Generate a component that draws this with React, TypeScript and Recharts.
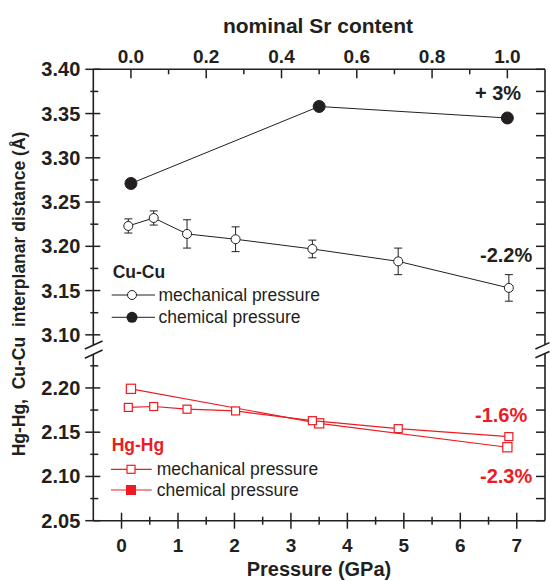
import React from 'react';
import { ComposedChart, Scatter, XAxis, YAxis, ErrorBar, ReferenceLine } from 'recharts';

// ---------------- data ----------------
const pressureGPa = [0.12, 0.57, 1.16, 2.02, 3.38, 4.9, 6.86];
const cuCuMechanical = [3.223, 3.232, 3.214, 3.208, 3.197, 3.183, 3.153];
const cuCuMechanicalErr = [0.008, 0.008, 0.016, 0.014, 0.01, 0.015, 0.015];
const hgHgMechanical = [2.178, 2.179, 2.176, 2.174, 2.163, 2.154, 2.145];
const hgHgMechanicalErr = [0.004, 0.004, 0.004, 0.004, 0.004, 0.004, 0.004];

const srContent = [0.0, 0.5, 1.0];
const cuCuChemical = [3.271, 3.358, 3.345];
const hgHgChemical = [2.199, 2.16, 2.133];

const pressureTicks = [0, 0.5, 1, 1.5, 2, 2.5, 3, 3.5, 4, 4.5, 5, 5.5, 6, 6.5, 7];
const srTicks = [0, 0.1, 0.2, 0.3, 0.4, 0.5, 0.6, 0.7, 0.8, 0.9, 1.0];
const lowerYTicks = [2.05, 2.075, 2.1, 2.125, 2.15, 2.175, 2.2, 2.225];
const upperYTicks = [3.1, 3.125, 3.15, 3.175, 3.2, 3.225, 3.25, 3.275, 3.3, 3.325, 3.35, 3.375, 3.4];

// ---------------- styling / helpers ----------------
const INK = '#231f20';
const RED = '#ed1c24';
const FONT = "'Liberation Sans', Arial, Helvetica, sans-serif";
const SHIFT = 0.84; // broken axis: 3.10 is drawn where 2.26 would be
const toDisplay = (v: number) => (v > 2.9 ? v - SHIFT : v);
const toActual = (d: number) => (d > 2.245 ? d + SHIFT : d);
const isMajorY = (v: number) => Math.round(v * 1000) % 50 === 0;

const cuMechData = pressureGPa.map((x, i) => ({ x, y: toDisplay(cuCuMechanical[i]), err: cuCuMechanicalErr[i] }));
const hgMechData = pressureGPa.map((x, i) => ({ x, y: toDisplay(hgHgMechanical[i]), err: hgHgMechanicalErr[i] }));
const cuChemData = srContent.map((x, i) => ({ x, y: toDisplay(cuCuChemical[i]) }));
const hgChemData = srContent.map((x, i) => ({ x, y: toDisplay(hgHgChemical[i]) }));
const yTicks = [...lowerYTicks, ...upperYTicks.map(toDisplay)];

// ---------------- ticks ----------------
const BottomTick = ({ x, y, payload }: any) => {
  const v = payload.value as number;
  const major = Math.abs(v - Math.round(v)) < 1e-6;
  return (
    <g>
      <line x1={x} x2={x} y1={y - (major ? 8 : 4)} y2={y + (major ? 8 : 4)} stroke={INK} strokeWidth={1.5} />
      {major && (
        <text x={x} y={y + 31} textAnchor="middle" fontFamily={FONT} fontWeight="bold" fontSize={19} fill={INK}>
          {String(v)}
        </text>
      )}
    </g>
  );
};

const TopTick = ({ x, y, payload }: any) => {
  const v = payload.value as number;
  const major = Math.round(v * 10) % 2 === 0;
  return (
    <g>
      <line x1={x} x2={x} y1={y} y2={y + (major ? 9 : 5)} stroke={INK} strokeWidth={1.5} />
      {major && (
        <text x={x} y={y - 6} textAnchor="middle" fontFamily={FONT} fontWeight="bold" fontSize={19} fill={INK}>
          {v.toFixed(1)}
        </text>
      )}
    </g>
  );
};

const LeftTick = ({ x, y, payload }: any) => {
  const actual = toActual(payload.value as number);
  const major = isMajorY(actual);
  return (
    <g>
      <line x1={x - (major ? 8 : 3)} x2={x + (major ? 7 : 5)} y1={y} y2={y} stroke={INK} strokeWidth={1.5} />
      {major && (
        <text x={x - 13} y={y + 7} textAnchor="end" fontFamily={FONT} fontWeight="bold" fontSize={20} fill={INK}>
          {actual.toFixed(2)}
        </text>
      )}
    </g>
  );
};

const RightTick = ({ x, y }: any) => (
  <line x1={x - 9} x2={x} y1={y} y2={y} stroke={INK} strokeWidth={1.5} />
);

// ---------------- markers ----------------
const OpenCircle = (p: any) => <circle cx={p.cx} cy={p.cy} r={4.5} fill="#fff" stroke={INK} strokeWidth={1} />;
const FilledCircle = (p: any) => <circle cx={p.cx} cy={p.cy} r={6} fill={INK} stroke={INK} strokeWidth={1} />;
const SmallSquare = (p: any) => (
  <rect x={p.cx - 4} y={p.cy - 4} width={8} height={8} fill="#fff" stroke={RED} strokeWidth={1.2} />
);
const BigSquare = (p: any) => (
  <rect x={p.cx - 4.6} y={p.cy - 4.6} width={9.2} height={9.2} fill="#fff" stroke={RED} strokeWidth={1.2} />
);

const axisSeg = (a: [number, number], b: [number, number], key: string) => (
  <ReferenceLine
    key={key}
    xAxisId="p"
    yAxisId="l"
    segment={[{ x: a[0], y: a[1] }, { x: b[0], y: b[1] }]}
    stroke={INK}
    strokeWidth={1.6}
    ifOverflow="visible"
  />
);

export default function App() {
  return (
    <div style={{ position: 'absolute', left: 0, top: 0, width: 550, height: 581, background: '#fff' }}>
      <ComposedChart width={550} height={581} margin={{ top: 0, right: 0, bottom: 0, left: 0 }}>
        <XAxis
          xAxisId="p"
          dataKey="x"
          type="number"
          orientation="bottom"
          domain={[-0.5, 7.5]}
          allowDataOverflow
          ticks={pressureTicks}
          interval={0}
          height={60.3}
          tickSize={0}
          tickMargin={0}
          tickLine={false}
          tick={<BottomTick />}
          axisLine={{ stroke: INK, strokeWidth: 1.6 }}
        />
        <XAxis
          xAxisId="sr"
          dataKey="x"
          type="number"
          orientation="top"
          domain={[-0.1, 1.1]}
          allowDataOverflow
          ticks={srTicks}
          interval={0}
          height={69.3}
          tickSize={0}
          tickMargin={0}
          tickLine={false}
          tick={<TopTick />}
          axisLine={{ stroke: INK, strokeWidth: 1.6 }}
        />
        <YAxis
          yAxisId="l"
          dataKey="y"
          type="number"
          domain={[2.05, 2.56]}
          allowDataOverflow
          ticks={yTicks}
          interval={0}
          width={93.3}
          tickSize={0}
          tickMargin={0}
          tickLine={false}
          tick={<LeftTick />}
          axisLine={false}
        />
        <YAxis
          yAxisId="r"
          orientation="right"
          type="number"
          domain={[2.05, 2.56]}
          allowDataOverflow
          ticks={yTicks}
          interval={0}
          width={5}
          tickSize={0}
          tickMargin={0}
          tickLine={false}
          tick={<RightTick />}
          axisLine={false}
        />

        {/* broken vertical axes */}
        {axisSeg([-0.5, 2.05], [-0.5, 2.2384], 'l1')}
        {axisSeg([-0.5, 2.2485], [-0.5, 2.56], 'l2')}
        {axisSeg([-0.65, 2.244], [-0.336, 2.253], 'ls1')}
        {axisSeg([-0.65, 2.2335], [-0.336, 2.2429], 'ls2')}
        {axisSeg([7.5, 2.05], [7.5, 2.2389], 'r1')}
        {axisSeg([7.5, 2.2489], [7.5, 2.56], 'r2')}
        {axisSeg([7.33, 2.244], [7.58, 2.2512], 'rs1')}
        {axisSeg([7.33, 2.234], [7.58, 2.2412], 'rs2')}

        <Scatter
          data={hgChemData}
          xAxisId="sr"
          yAxisId="l"
          line={{ stroke: RED, strokeWidth: 1.2 }}
          shape={BigSquare}
          isAnimationActive={false}
        />
        <Scatter
          data={hgMechData}
          xAxisId="p"
          yAxisId="l"
          line={{ stroke: RED, strokeWidth: 1.2 }}
          shape={SmallSquare}
          isAnimationActive={false}
        >
          <ErrorBar dataKey="err" direction="y" width={4} stroke={RED} strokeWidth={1} />
        </Scatter>
        <Scatter
          data={cuChemData}
          xAxisId="sr"
          yAxisId="l"
          line={{ stroke: INK, strokeWidth: 1 }}
          shape={FilledCircle}
          isAnimationActive={false}
        />
        <Scatter
          data={cuMechData}
          xAxisId="p"
          yAxisId="l"
          line={{ stroke: INK, strokeWidth: 1 }}
          shape={OpenCircle}
          isAnimationActive={false}
        >
          <ErrorBar dataKey="err" direction="y" width={4} stroke={INK} strokeWidth={1} />
        </Scatter>
      </ComposedChart>

      <svg
        width={550}
        height={581}
        style={{ position: 'absolute', left: 0, top: 0, pointerEvents: 'none' }}
        fontFamily={FONT}
      >
        {/* axis titles */}
        <text x={318} y={33} textAnchor="middle" fontWeight="bold" fontSize={21} fill={INK}>
          nominal Sr content
        </text>
        <text x={319} y={576} textAnchor="middle" fontWeight="bold" fontSize={20} fill={INK}>
          Pressure (GPa)
        </text>
        <text
          x={25}
          y={294}
          transform="rotate(-90 25 294)"
          textAnchor="middle"
          fontWeight="bold"
          fontSize={17.5}
          fill={INK}
          style={{ whiteSpace: 'pre' }}
        >
          {'Hg-Hg,  Cu-Cu  interplanar distance (Å)'}
        </text>

        {/* annotations */}
        <text x={475} y={100} fontWeight="bold" fontSize={20} fill={INK}>+ 3%</text>
        <text x={480} y={261.7} fontWeight="bold" fontSize={20} fill={INK}>-2.2%</text>
        <text x={475} y={421.7} fontWeight="bold" fontSize={20} fill={RED}>-1.6%</text>
        <text x={480} y={483.3} fontWeight="bold" fontSize={20} fill={RED}>-2.3%</text>

        {/* Cu-Cu legend */}
        <text x={112.7} y={277.7} fontWeight="bold" fontSize={17.5} fill={INK}>Cu-Cu</text>
        <line x1={111.7} x2={155} y1={295} y2={295} stroke={INK} strokeWidth={1} />
        <circle cx={132} cy={295} r={4.5} fill="#fff" stroke={INK} strokeWidth={1} />
        <text x={158.5} y={300.5} fontSize={17.5} fill={INK}>mechanical pressure</text>
        <line x1={111.7} x2={155} y1={317.3} y2={317.3} stroke={INK} strokeWidth={1} />
        <circle cx={132} cy={317.3} r={5.5} fill={INK} />
        <text x={158.5} y={322.8} fontSize={17.5} fill={INK}>chemical pressure</text>

        {/* Hg-Hg legend */}
        <text x={111.7} y={451} fontWeight="bold" fontSize={17.5} fill={RED}>Hg-Hg</text>
        <line x1={111} x2={151.7} y1={469.3} y2={469.3} stroke={RED} strokeWidth={1.2} />
        <rect x={127} y={465.3} width={8} height={8} fill="#fff" stroke={RED} strokeWidth={1.2} />
        <text x={156.7} y={475} fontSize={17.5} fill={INK}>mechanical pressure</text>
        <line x1={111} x2={151.7} y1={490} y2={490} stroke={RED} strokeWidth={1.2} />
        <rect x={126.5} y={485.5} width={9} height={9} fill={RED} stroke={RED} strokeWidth={1} />
        <text x={156.7} y={495.7} fontSize={17.5} fill={INK}>chemical pressure</text>
      </svg>
    </div>
  );
}
